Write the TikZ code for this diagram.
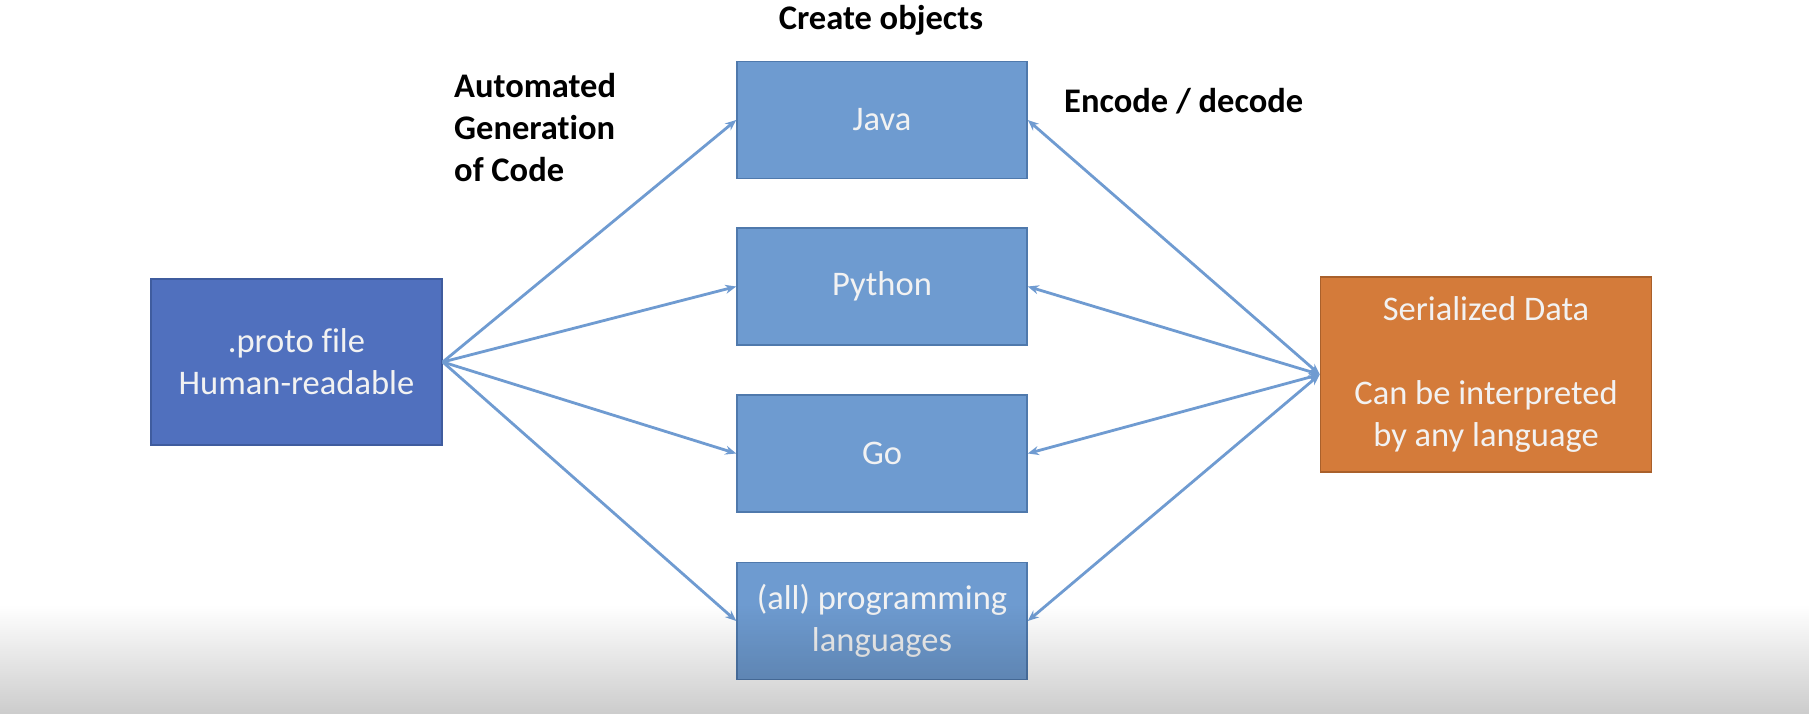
\documentclass[tikz,border=0pt]{standalone}
\usepackage{fontspec}
\setmainfont[Ligatures=NoCommon]{Carlito}
\usetikzlibrary{arrows.meta,fadings}

\definecolor{protoblue}{HTML}{5070BE}
\definecolor{protoedge}{HTML}{3F5C9E}
\definecolor{langblue}{HTML}{6E9BD0}
\definecolor{langedge}{HTML}{4F79AC}
\definecolor{dataorange}{HTML}{D47B3A}
\definecolor{dataedge}{HTML}{A9602B}
\definecolor{linkblue}{HTML}{6F9BD1}
\definecolor{boxtext}{HTML}{F2F2F2}

\tikzset{
  box/.style={draw, line width=1.5pt, text=boxtext, align=center, inner sep=0pt,
    font=\fontsize{34.5}{42}\selectfont},
  protobox/.style={box, fill=protoblue, draw=protoedge, minimum width=291pt, minimum height=166pt},
  langbox/.style={box, fill=langblue, draw=langedge, minimum width=290pt, minimum height=117pt},
  databox/.style={box, fill=dataorange, draw=dataedge, minimum width=331pt, minimum height=195pt},
  caption/.style={font=\fontsize{34.5}{42}\selectfont\bfseries, text=black, inner sep=0pt},
  link/.style={draw=linkblue, line width=2.8pt, -{Stealth[length=11pt,width=9pt]}},
  twoway/.style={draw=linkblue, line width=2.8pt, {Stealth[length=11pt,width=9pt]}-{Stealth[length=11pt,width=9pt]}},
}

\begin{document}
\begin{tikzpicture}[x=1pt,y=-1pt]
  \fill[white] (0,0) rectangle (1818,714);
  \useasboundingbox (0,0) rectangle (1818,714);

  % boxes
  \node[protobox] (proto) at (296.5,362) {.proto file\\Human-readable};
  \node[langbox] (java) at (882,120) {\raisebox{-3pt}{Java}};
  \node[langbox] (python) at (882,286.5) {\raisebox{-3pt}{Python}};
  \node[langbox] (go) at (882,453.5) {\raisebox{-3pt}{Go}};
  \node[langbox] (all) at (882,621) {(all) programming\\languages};
  \node[databox] (data) at (1486,374.5) {Serialized Data\\[42pt]Can be interpreted\\by any language};

  % captions
  \node[caption] (create) at (881,20) {Create objects};
  \node[caption, align=left, anchor=north west] (auto) at (454,73) {Automated\\Generation\\of Code};
  \node[caption, anchor=west] (encode) at (1064,101) {Encode / decode};

  % code generation
  \foreach \t in {java,python,go,all}
    \draw[link] (proto.east) -- (\t.west);

  % encoding and decoding
  \foreach \t in {java,python,go,all}
    \draw[twoway] (\t.east) -- (data.west);

  % soft darkening along the bottom edge
  \fill[black, fill opacity=0.2, path fading=north] (0,605) rectangle (1818,714);
\end{tikzpicture}
\end{document}
